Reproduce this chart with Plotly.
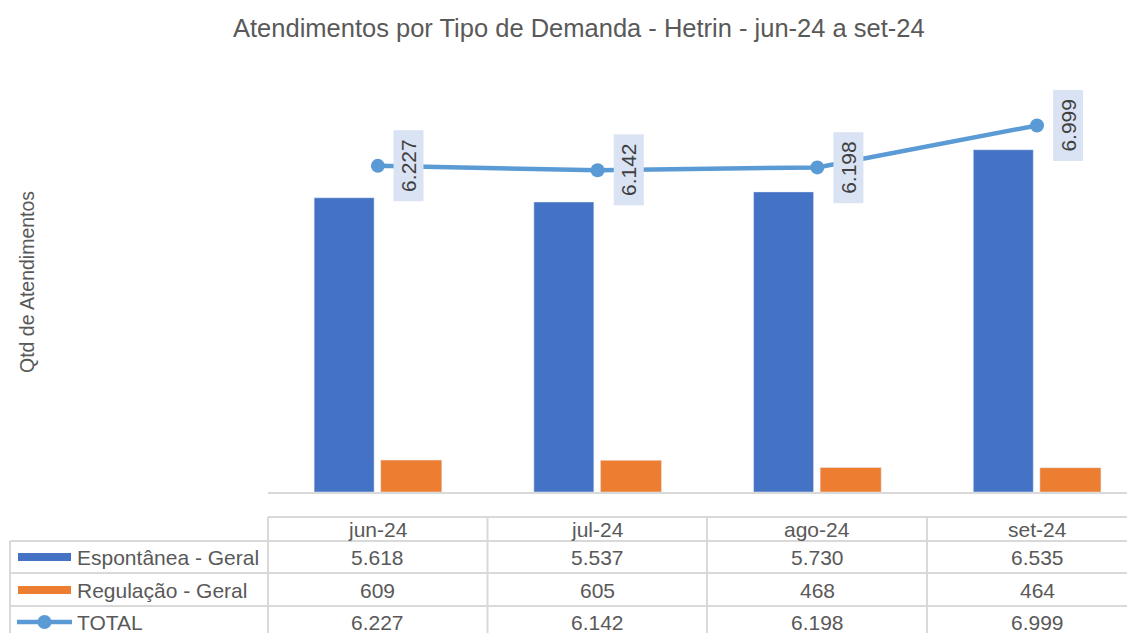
import plotly.graph_objects as go

categories = ["jun-24", "jul-24", "ago-24", "set-24"]
espontanea = [5618, 5537, 5730, 6535]
regulacao = [609, 605, 468, 464]
total = [6227, 6142, 6198, 6999]
series_names = ["Espontânea - Geral", "Regulação - Geral", "TOTAL"]
title_text = "Atendimentos por Tipo de Demanda - Hetrin - jun-24 a set-24"
y_title = "Qtd de Atendimentos"

# page body has an 8px margin, so the figure is drawn 8px in from the top-left
OFF = 8
W, H = 1135 - OFF, 633 - OFF
FONT = "Liberation Sans, Arial, sans-serif"
TXT = "#595959"
GRID = "#D9D9D9"
BLUE = "#4472C4"
ORANGE = "#ED7D31"
LINE = "#5B9BD5"


def px(x):
    return (x - OFF) / W


def py(y):
    return (H - (y - OFF)) / H


def fmt(v):
    return f"{v:,}".replace(",", ".")


xs = list(range(len(categories)))

fig = go.Figure()
fig.add_trace(go.Bar(x=xs, y=espontanea, name=series_names[0], marker_color=BLUE,
                     offset=-0.29, width=0.273, showlegend=False))
fig.add_trace(go.Bar(x=xs, y=regulacao, name=series_names[1], marker_color=ORANGE,
                     offset=0.013, width=0.278, showlegend=False))
fig.add_trace(go.Scatter(x=xs, y=total, name=series_names[2], mode="lines+markers",
                         line=dict(color=LINE, width=4.5),
                         marker=dict(color=LINE, size=14), showlegend=False))

annotations = []
annotations.append(dict(text=title_text, x=px(579), y=py(28), xref="paper", yref="paper",
                        xanchor="center", yanchor="middle", showarrow=False,
                        font=dict(family=FONT, size=25.5, color=TXT)))
annotations.append(dict(text=y_title, x=px(27), y=py(282), xref="paper", yref="paper",
                        xanchor="center", yanchor="middle", showarrow=False, textangle=-90,
                        font=dict(family=FONT, size=19.5, color=TXT)))
for i, v in zip(xs, total):
    annotations.append(dict(text=" " + fmt(v) + " ", x=i, y=v, xref="x", yref="y",
                            xshift=31, showarrow=False, textangle=-90,
                            bgcolor="#DAE3F3", borderpad=3,
                            font=dict(family=FONT, size=21, color="#404040")))

row_y = [529, 557, 590, 622]
for i, c in enumerate(categories):
    annotations.append(dict(text=c, x=i, y=py(row_y[0]), xref="x", yref="paper",
                            xanchor="center", yanchor="middle", showarrow=False,
                            font=dict(family=FONT, size=21, color=TXT)))
for r, vals in enumerate([espontanea, regulacao, total]):
    annotations.append(dict(text=series_names[r], x=px(75), y=py(row_y[r + 1]), xref="paper",
                            yref="paper", xanchor="left", yanchor="middle", showarrow=False,
                            font=dict(family=FONT, size=21, color=TXT)))
    for i, v in zip(xs, vals):
        annotations.append(dict(text=fmt(v), x=i, y=py(row_y[r + 1]), xref="x", yref="paper",
                                xanchor="center", yanchor="middle", showarrow=False,
                                font=dict(family=FONT, size=21, color=TXT)))

shapes = []


def hline(x0, x1, y, color=GRID, w=2):
    shapes.append(dict(type="line", xref="paper", yref="paper", x0=px(x0), x1=px(x1),
                       y0=py(y), y1=py(y), line=dict(color=color, width=w)))


def vline(x, y0, y1, color=GRID, w=2):
    shapes.append(dict(type="line", xref="paper", yref="paper", x0=px(x), x1=px(x),
                       y0=py(y0), y1=py(y1), line=dict(color=color, width=w)))


col_edges = [268, 487.5, 707, 927]
hline(268, 1140, 517)
for y in [541, 573, 606]:
    hline(10, 1140, y)
vline(10, 541, 640)
for x in col_edges:
    vline(x, 517, 640)

shapes.append(dict(type="rect", xref="paper", yref="paper", x0=px(18), x1=px(71),
                   y0=py(561), y1=py(553), fillcolor=BLUE, line=dict(width=0)))
shapes.append(dict(type="rect", xref="paper", yref="paper", x0=px(18), x1=px(71),
                   y0=py(594), y1=py(586), fillcolor=ORANGE, line=dict(width=0)))
shapes.append(dict(type="line", xref="paper", yref="paper", x0=px(17), x1=px(72),
                   y0=py(622), y1=py(622), line=dict(color=LINE, width=4.5)))
shapes.append(dict(type="circle", xref="paper", yref="paper", x0=px(37.5), x1=px(51.5),
                   y0=py(629), y1=py(615), fillcolor=LINE, line=dict(width=0)))

fig.update_layout(
    width=W, height=H,
    margin=dict(l=0, r=0, t=0, b=0),
    paper_bgcolor="white", plot_bgcolor="white",
    barmode="group",
    xaxis=dict(domain=[px(268), 1], range=[-0.5, 3.446], showticklabels=False,
               showgrid=False, zeroline=False, showline=True, linecolor=GRID, linewidth=1.5,
               ticks="", fixedrange=True),
    yaxis=dict(domain=[py(492), py(73)], range=[0, 8000], visible=False, showgrid=False,
               zeroline=False, fixedrange=True),
    annotations=annotations,
    shapes=shapes,
    font=dict(family=FONT, color=TXT),
)

fig.write_html("out.html")
